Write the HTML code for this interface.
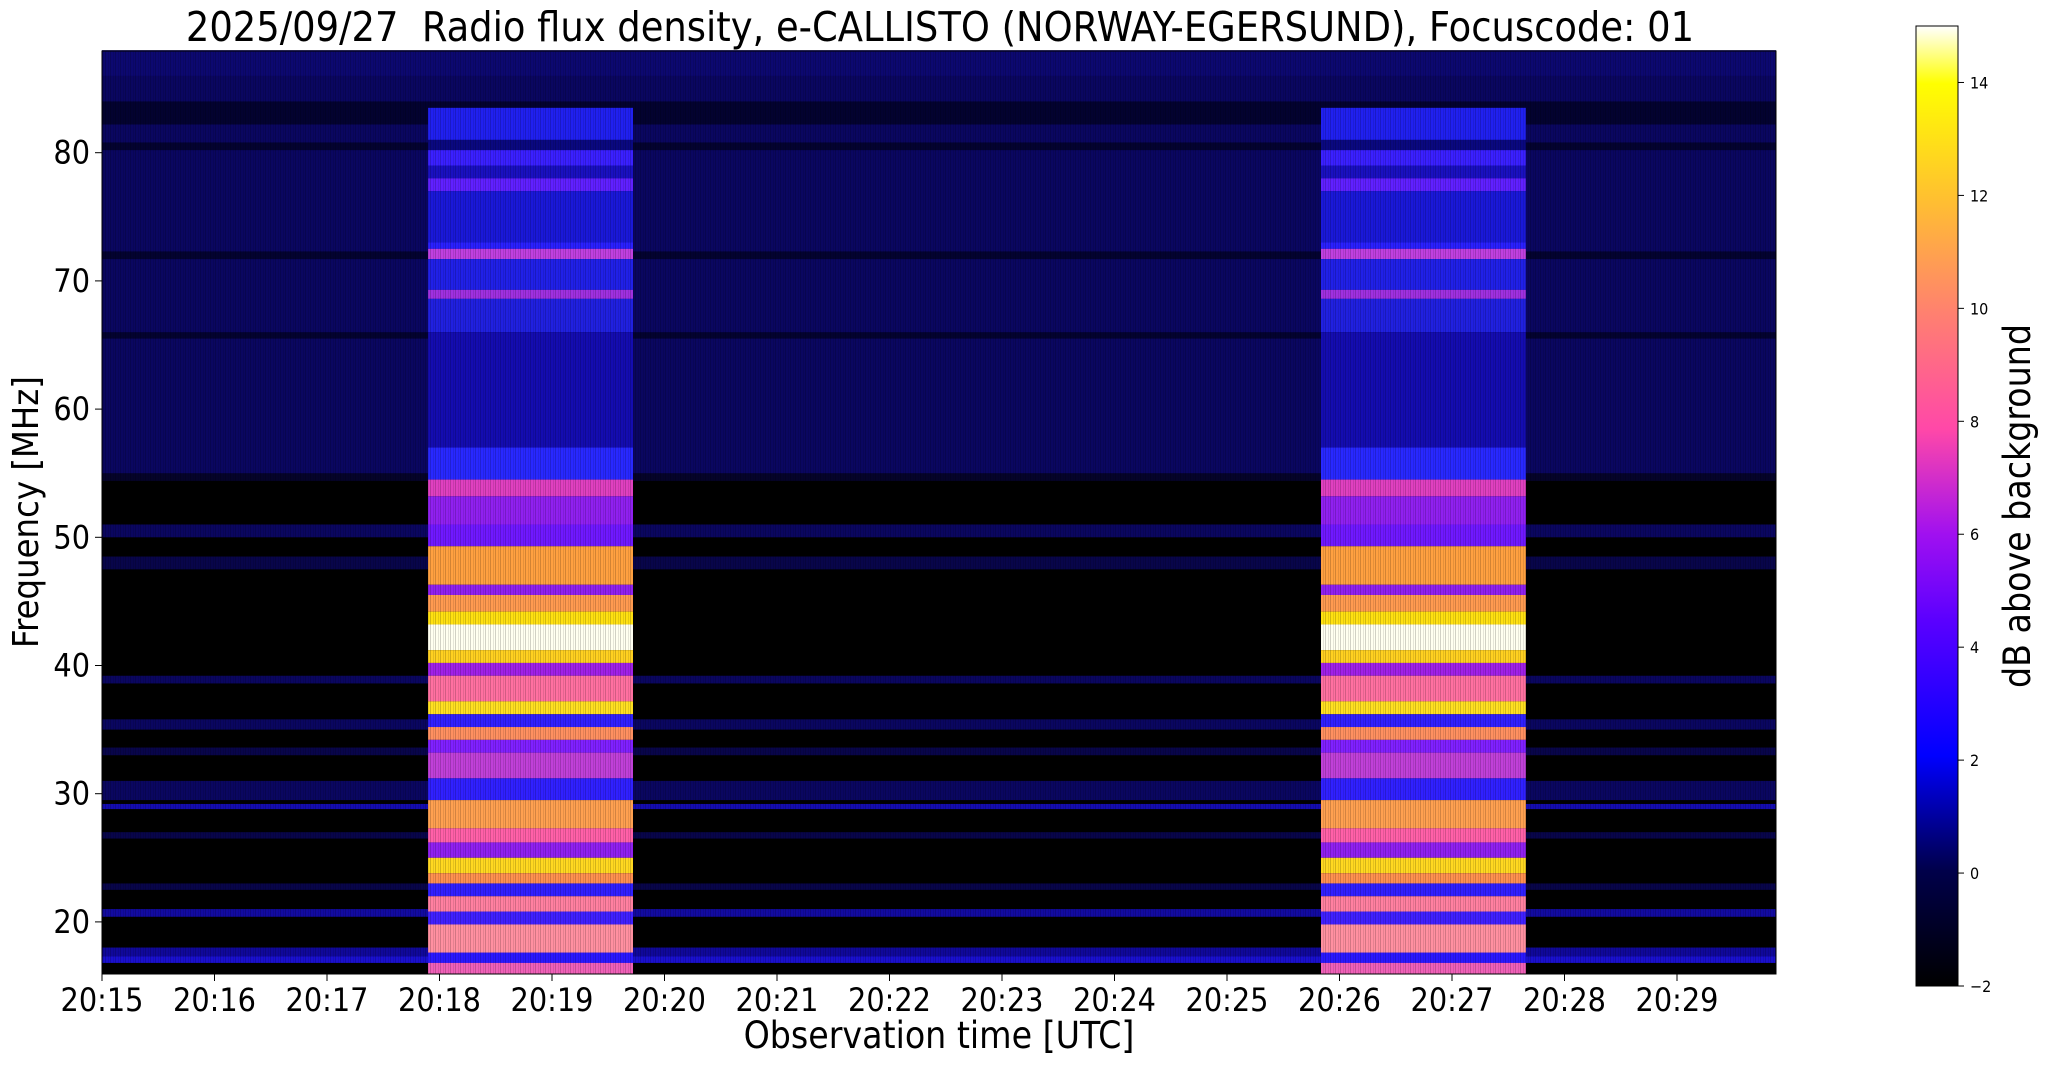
<!DOCTYPE html>
<html><head><meta charset="utf-8"><style>
body{margin:0;background:#fff;}
svg text{font-family:"DejaVu Sans Condensed","Liberation Sans",sans-serif;}
</style></head><body>
<svg id="s" width="2047" height="1067" xmlns="http://www.w3.org/2000/svg">
<defs>
<linearGradient id="cb" x1="0" y1="1" x2="0" y2="0">
<stop offset="0" stop-color="#000000"/>
<stop offset="0.12" stop-color="#00004a"/>
<stop offset="0.24" stop-color="#0000ff"/>
<stop offset="0.38" stop-color="#5a00ff"/>
<stop offset="0.47" stop-color="#a010f0"/>
<stop offset="0.58" stop-color="#ff48a8"/>
<stop offset="0.70" stop-color="#ff8070"/>
<stop offset="0.82" stop-color="#ffc030"/>
<stop offset="0.94" stop-color="#ffff00"/>
<stop offset="1" stop-color="#ffffff"/>
</linearGradient>
<pattern id="vs" width="5" height="10" patternUnits="userSpaceOnUse">
<rect x="0" y="0" width="1" height="10" fill="#000" opacity="0.18"/>
<rect x="3" y="0" width="1" height="10" fill="#000" opacity="0.1"/>
</pattern>
</defs>
<g id="plot"></g>
<rect x="102" y="51" width="1674" height="923" fill="url(#vs)"/>
<rect x="102" y="51" width="1674" height="923" fill="none" stroke="#000" stroke-width="1"/>
<text x="940" y="41" font-size="41" text-anchor="middle" xml:space="preserve">2025/09/27  Radio flux density, e-CALLISTO (NORWAY-EGERSUND), Focuscode: 01</text>
<g id="ax" font-size="32"></g>
<text x="939" y="1048" font-size="37" text-anchor="middle">Observation time [UTC]</text>
<text transform="translate(38,512) rotate(-90)" font-size="36" text-anchor="middle">Frequency [MHz]</text>
<rect x="1916" y="26" width="42" height="960" fill="url(#cb)" stroke="#000" stroke-width="1"/>
<g id="cbt" font-size="16"></g>
<text transform="translate(2030,506) rotate(-90)" font-size="37" text-anchor="middle">dB above background</text>
</svg>
<script>
const NS="http://www.w3.org/2000/svg";
const Y=f=>152.7+(80-f)*12.82;
const g=document.getElementById('plot');
function r(x,y,w,h,c,o){const e=document.createElementNS(NS,'rect');e.setAttribute('x',x);e.setAttribute('y',y);e.setAttribute('width',w);e.setAttribute('height',h);e.setAttribute('fill',c);if(o!==undefined)e.setAttribute('opacity',o);g.appendChild(e);}
r(102,51,1674,Y(54.5)-51,'#0a0660');
r(102,Y(54.5),1674,974-Y(54.5),'#000000');
[[84,82.2],[80.8,80.2],[72.3,71.7],[66,65.5]].forEach(b=>r(102,Y(b[0]),1674,Y(b[1])-Y(b[0]),'#030230'));
[[88,86]].forEach(b=>r(102,Y(b[0]),1674,Y(b[1])-Y(b[0]),'#0c0870'));
[[55,54.4,'#05032a'],[51,50,'#0a0660'],[48.5,47.5,'#08054a'],[39.2,38.6,'#0a0660'],[35.8,35,'#0a0660'],[33.6,33,'#08054a'],[31,29.5,'#0a0660'],[29.2,28.8,'#140cb0'],[27,26.5,'#08054a'],[23,22.5,'#08054a'],[21,20.4,'#120aa0'],[18,17,'#10089a'],[17.3,16.8,'#1a10d0']].forEach(b=>r(102,Y(b[0]),1674,Y(b[1])-Y(b[0]),b[2]));
const bands=[[83.5,81,'#2020f0'],[81,80.2,'#0a0880'],[80.2,79,'#3a20ff'],[79,78,'#1a10c0'],[78,77,'#6020ff'],[77,73,'#1a18d8'],[73,72.5,'#2a20ff'],[72.5,71.7,'#c040e0'],[71.7,69.3,'#2020e8'],[69.3,68.6,'#a030e0'],[68.6,66,'#2020e0'],[66,57,'#140cb0'],[57,54.5,'#2828ff'],[54.5,53.2,'#e040c0'],[53.2,51,'#9020f0'],[51,49.3,'#7018ff'],[49.3,46.3,'#ffa040'],[46.3,45.5,'#9020f0'],[45.5,44.2,'#ff9a50'],[44.2,43.2,'#ffe010'],[43.2,41.2,'#fffff0'],[41.2,40.2,'#ffd020'],[40.2,39.2,'#a020e8'],[39.2,37.2,'#ff70a0'],[37.2,36.2,'#ffe020'],[36.2,35.2,'#3020ff'],[35.2,34.2,'#ff9060'],[34.2,33.2,'#8020ff'],[33.2,31.2,'#c040d8'],[31.2,29.5,'#3020ff'],[29.5,27.3,'#ffa050'],[27.3,26.2,'#ff60a8'],[26.2,25,'#9020f0'],[25,23.8,'#ffd820'],[23.8,23,'#ff9050'],[23,22,'#3020ff'],[22,20.8,'#ff80a0'],[20.8,19.8,'#4020ff'],[19.8,17.6,'#ff90a0'],[17.6,16.8,'#2a18ff'],[16.8,15.9,'#f060b8']];
[428,1321].forEach(x0=>{bands.forEach(b=>{const y1=Y(b[0]),y2=Math.min(Y(b[1]),974);r(x0,y1,205,y2-y1,b[2]);});});
const ax=document.getElementById('ax');
function t(x,y,s,a){const e=document.createElementNS(NS,'text');e.setAttribute('x',x);e.setAttribute('y',y);e.setAttribute('text-anchor',a);e.textContent=s;ax.appendChild(e);}
function l(x1,y1,x2,y2,p){const e=document.createElementNS(NS,'line');e.setAttribute('x1',x1);e.setAttribute('y1',y1);e.setAttribute('x2',x2);e.setAttribute('y2',y2);e.setAttribute('stroke','#000');(p||ax).appendChild(e);}
for(let i=0;i<15;i++){const x=102+i*112.5;l(x,974,x,981);t(x,1011,'20:'+(15+i),'middle');}
for(let f=20;f<=80;f+=10){const y=Y(f);l(95,y,102,y);t(90,y+11,String(f),'end');}
const cbt=document.getElementById('cbt');
for(let v=-2;v<=14;v+=2){const y=986-(v+2)/17*960;l(1958,y,1964,y,cbt);const e=document.createElementNS(NS,'text');e.setAttribute('x',1970);e.setAttribute('y',y+6);e.textContent=v<0?'\u2212'+(-v):String(v);cbt.appendChild(e);}
</script>
</body></html>
